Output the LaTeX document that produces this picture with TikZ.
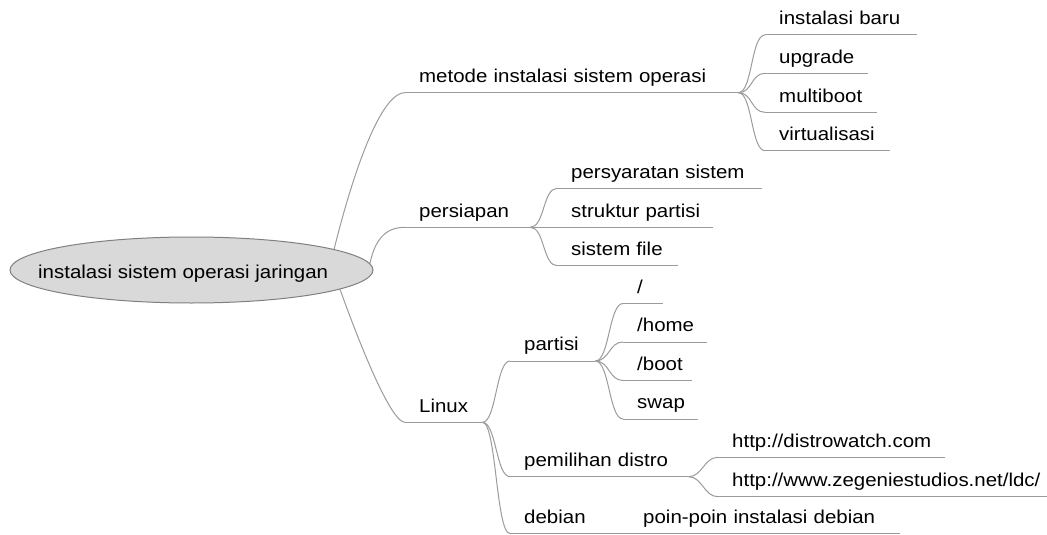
\documentclass[tikz,border=0pt]{standalone}
\usepackage{fontspec}
\setmainfont{Liberation Sans}[FakeStretch=1.1]
\usetikzlibrary{calc,backgrounds,shapes.geometric}
\definecolor{edgegray}{RGB}{155,155,155}
\definecolor{rootfill}{RGB}{217,217,217}
\definecolor{rootdraw}{RGB}{128,128,128}
\begin{document}
\begin{tikzpicture}[x=1pt,y=-1pt,
  every node/.style={font=\fontsize{18.6}{22}\selectfont, text=black},
  topic/.style={anchor=south west, inner xsep=0pt, inner ysep=10pt, text depth=0pt,
    align=left, execute at begin node={\hspace*{14pt}}},
  uline/.style={draw=edgegray, line width=1pt},
  edgeline/.style={draw=edgegray, line width=1pt},
  fork/.style={to path={.. controls ($(\tikztostart)+(14,0)$) and ($(\tikztotarget)+(-14,0)$) .. (\tikztotarget)}}
]
\useasboundingbox (0,0) rectangle (1047,535);

% root
\node[ellipse, draw=rootdraw, fill=rootfill, line width=1pt, minimum width=363pt,
      minimum height=66pt, inner sep=0pt] (root) at (191.5,270) {};
\node[anchor=base west, inner sep=0pt] (rootlabel) at (38,278.3) {instalasi sistem operasi jaringan};

% level 1
\node[topic, text width=333pt] (metode) at (405,92.7) {metode instalasi sistem operasi};
\node[topic, text width=125pt] (persiapan) at (405,227.3) {persiapan};
\node[topic, text width=77pt] (linux) at (405,422.3) {Linux};

% metode children
\node[topic, text width=152pt] (instbaru) at (765,35) {instalasi baru};
\node[topic, text width=103pt] (upgrade) at (765,73.3) {upgrade};
\node[topic, text width=112pt] (multiboot) at (765,112.3) {multiboot};
\node[topic, text width=125pt] (virt) at (765,150.7) {virtualisasi};

% persiapan children
\node[topic, text width=205pt] (persyaratan) at (557,188.3) {persyaratan sistem};
\node[topic, text width=156pt] (struktur) at (557,227.3) {struktur partisi};
\node[topic, text width=121pt] (sistemfile) at (557,265.7) {sistem file};

% linux children
\node[topic, text width=85pt] (partisi) at (510,361) {partisi};
\node[topic, text width=178pt] (pemilihan) at (510,476.7) {pemilihan distro};
\node[topic, text width=95pt] (debian) at (510,533.5) {debian};

% partisi children
\node[topic, text width=40pt] (slash) at (623,303.5) {/};
\node[topic, text width=84pt] (home) at (623,342) {/home};
\node[topic, text width=69pt] (boot) at (623,380.5) {/boot};
\node[topic, text width=75pt] (swap) at (623,419) {swap};

% pemilihan children
\node[topic, text width=227pt] (distro) at (718,457.3) {http://distrowatch.com};
\node[topic, text width=329pt] (zegenie) at (718,496.7) {http://www.zegeniestudios.net/ldc/};

% debian child
\node[topic, text width=271pt] (poin) at (629,533.5) {poin-poin instalasi debian};

% underlines
\foreach \n in {metode,persiapan,linux,instbaru,upgrade,multiboot,virt,persyaratan,struktur,
  sistemfile,partisi,pemilihan,debian,slash,home,boot,swap,distro,zegenie,poin}
  \draw[uline] (\n.south west) -- (\n.south east);

% root edges (behind the ellipse)
\begin{scope}[on background layer]
  \draw[edgeline] ($(root.center)+(139.5,-8)$) .. controls ($(root.center)+(156.5,-80)$) and ($(metode.south west)+(-27,0)$) .. (metode.south west);
  \draw[edgeline] ($(root.center)+(177.5,-2)$) .. controls ($(root.center)+(182.5,-30)$) and ($(persiapan.south west)+(-20,0)$) .. (persiapan.south west);
  \draw[edgeline] ($(root.center)+(144.5,8)$) .. controls ($(root.center)+(164.5,65)$) and ($(linux.south west)+(-15,0)$) .. (linux.south west);
\end{scope}

% forks
\foreach \p/\c in {metode/instbaru,metode/upgrade,metode/multiboot,metode/virt,
  persiapan/persyaratan,persiapan/struktur,persiapan/sistemfile,
  linux/partisi,linux/pemilihan,linux/debian,
  partisi/slash,partisi/home,partisi/boot,partisi/swap,
  pemilihan/distro,pemilihan/zegenie,debian/poin}
  \draw[edgeline] (\p.south east) to[fork] (\c.south west);
\end{tikzpicture}
\end{document}
